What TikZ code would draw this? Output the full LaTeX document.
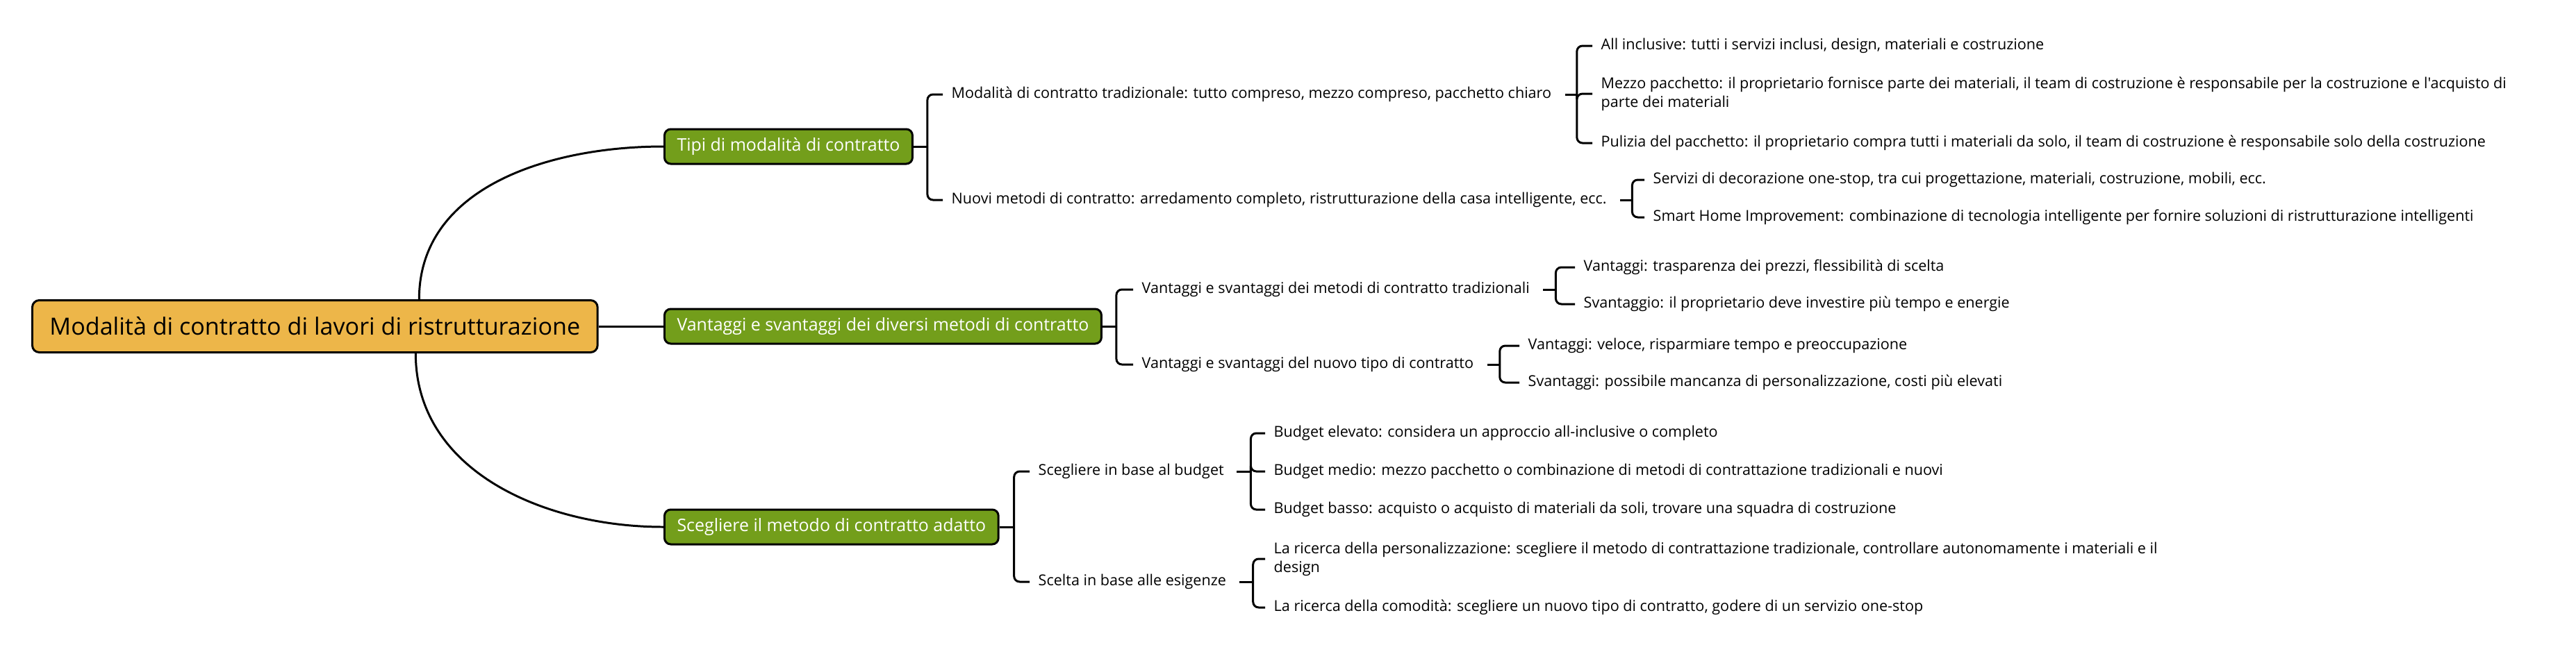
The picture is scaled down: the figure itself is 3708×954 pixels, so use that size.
\documentclass[tikz,border=0pt]{standalone}
\usepackage{fontspec}
\usepackage{tikz}
\usetikzlibrary{calc,positioning}
\newfontfamily\mapfont{Open Sans}
\definecolor{rootfill}{RGB}{237,182,73}
\definecolor{topicgreen}{RGB}{115,158,27}
\tikzset{
    rootbox/.style={
        draw=black,
        line width=0.85pt,
        rounded corners=1mm,
        fill=rootfill,
        font=\mapfont\fontsize{9.7}{11}\selectfont,
        minimum height=7.5mm,
        inner xsep=2.5mm,
        anchor=west
    },
    topicbox/.style={
        draw=black,
        line width=0.85pt,
        rounded corners=0.9mm,
        fill=topicgreen,
        text=white,
        font=\mapfont\fontsize{7.1}{8.5}\selectfont,
        minimum height=5mm,
        inner xsep=1.8mm,
        anchor=west
    },
    leaf/.style={
        anchor=west,
        inner sep=0pt,
        align=left,
        font=\mapfont\fontsize{6.14}{7.7}\selectfont
    },
    branch/.style={line width=0.85pt, black},
    bracket/.style={line width=0.85pt, black, rounded corners=0.8mm, shorten >=1.2mm}
}

\begin{document}
\begin{tikzpicture}[x=0.1mm,y=0.1mm]
\useasboundingbox (0,0) rectangle (3708,-954);

% centro e rami principali
\node[rootbox] (root) at (45,-470) {Modalità di contratto di lavori di ristrutturazione};
\node[topicbox] (tipi) at (955,-211) {Tipi di modalità di contratto};
\node[topicbox] (vant) at (955,-470) {Vantaggi e svantaggi dei diversi metodi di contratto};
\node[topicbox] (sceg) at (955,-759) {Scegliere il metodo di contratto adatto};

\draw[branch] ([xshift=1.5cm]root.north) to[out=90,in=180] (tipi.west);
\draw[branch] (root.east) -- (vant.west);
\draw[branch] ([xshift=1.45cm]root.south) to[out=-90,in=180] (sceg.west);

% Tipi
\node[leaf] (t1) at (1369,-136) {Modalità di contratto tradizionale: tutto compreso, mezzo compreso, pacchetto chiaro};
\node[leaf] (t2) at (1369,-288) {Nuovi metodi di contratto: arredamento completo, ristrutturazione della casa intelligente, ecc.};
\node[leaf] (t11) at (2304,-66) {All inclusive: tutti i servizi inclusi, design, materiali e costruzione};
\node[leaf] (t12) at (2304,-135) {Mezzo pacchetto: il proprietario fornisce parte dei materiali, il team di costruzione è responsabile per la costruzione e l'acquisto di\\parte dei materiali};
\node[leaf] (t13) at (2304,-206) {Pulizia del pacchetto: il proprietario compra tutti i materiali da solo, il team di costruzione è responsabile solo della costruzione};
\node[leaf] (t21) at (2379,-259) {Servizi di decorazione one-stop, tra cui progettazione, materiali, costruzione, mobili, ecc.};
\node[leaf] (t22) at (2379,-313) {Smart Home Improvement: combinazione di tecnologia intelligente per fornire soluzioni di ristrutturazione intelligenti};

% Vantaggi
\node[leaf] (v1) at (1643,-417) {Vantaggi e svantaggi dei metodi di contratto tradizionali};
\node[leaf] (v2) at (1643,-525) {Vantaggi e svantaggi del nuovo tipo di contratto};
\node[leaf] (v11) at (2279,-385) {Vantaggi: trasparenza dei prezzi, flessibilità di scelta};
\node[leaf] (v12) at (2279,-438) {Svantaggio: il proprietario deve investire più tempo e energie};
\node[leaf] (v21) at (2199,-498) {Vantaggi: veloce, risparmiare tempo e preoccupazione};
\node[leaf] (v22) at (2199,-551) {Svantaggi: possibile mancanza di personalizzazione, costi più elevati};

% Scegliere
\node[leaf] (s1) at (1494,-679) {Scegliere in base al budget};
\node[leaf] (s2) at (1494,-838) {Scelta in base alle esigenze};
\node[leaf] (s11) at (1833,-624) {Budget elevato: considera un approccio all-inclusive o completo};
\node[leaf] (s12) at (1833,-679) {Budget medio: mezzo pacchetto o combinazione di metodi di contrattazione tradizionali e nuovi};
\node[leaf] (s13) at (1833,-734) {Budget basso: acquisto o acquisto di materiali da soli, trovare una squadra di costruzione};
\node[leaf] (s21) at (1833,-805) {La ricerca della personalizzazione: scegliere il metodo di contrattazione tradizionale, controllare autonomamente i materiali e il\\design};
\node[leaf] (s22) at (1833,-875) {La ricerca della comodità: scegliere un nuovo tipo di contratto, godere di un servizio one-stop};

% parentesi
\draw[branch] (tipi.east) -- ++(20,0) coordinate (tipib);
\foreach \c in {t1,t2} \draw[bracket] (tipib) |- (\c.west);
\draw[branch] ([xshift=1.9mm]t1.east) -- ++(17,0) coordinate (t1b);
\foreach \c in {t11,t12,t13} \draw[bracket] (t1b) |- (\c.west);
\draw[branch] ([xshift=1.9mm]t2.east) -- ++(17,0) coordinate (t2b);
\foreach \c in {t21,t22} \draw[bracket] (t2b) |- (\c.west);

\draw[branch] (vant.east) -- ++(20,0) coordinate (vantb);
\foreach \c in {v1,v2} \draw[bracket] (vantb) |- (\c.west);
\draw[branch] ([xshift=1.9mm]v1.east) -- ++(18,0) coordinate (v1b);
\foreach \c in {v11,v12} \draw[bracket] (v1b) |- (\c.west);
\draw[branch] ([xshift=1.9mm]v2.east) -- ++(18,0) coordinate (v2b);
\foreach \c in {v21,v22} \draw[bracket] (v2b) |- (\c.west);

\draw[branch] (sceg.east) -- ++(21,0) coordinate (scegb);
\foreach \c in {s1,s2} \draw[bracket] (scegb) |- (\c.west);
\draw[branch] ([xshift=1.8mm]s1.east) -- ++(20,0) coordinate (s1b);
\foreach \c in {s11,s12,s13} \draw[bracket] (s1b) |- (\c.west);
\draw[branch] ([xshift=1.8mm]s2.east) -- ++(20,0) coordinate (s2b);
\foreach \c in {s21,s22} \draw[bracket] (s2b) |- (\c.west);
\end{tikzpicture}
\end{document}
